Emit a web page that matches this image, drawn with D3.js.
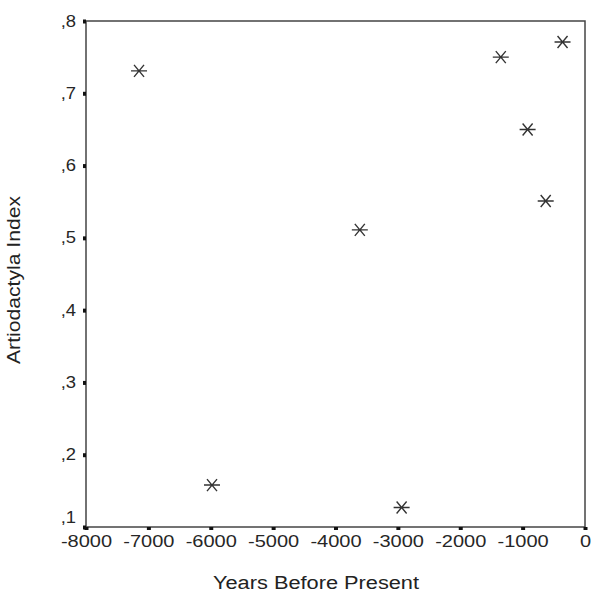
<!DOCTYPE html>
<html>
<head>
<meta charset="utf-8">
<script src="https://cdn.jsdelivr.net/npm/d3@7"></script>
<style>
  body { margin: 0; background: #fff; }
  svg { font-family: "Liberation Sans", Arial, sans-serif; }
  .axis path { display: none; }
  .axis line { stroke: #111; stroke-width: 4; }
  .axis text { fill: #262626; font-size: 16px; }
</style>
</head>
<body>
<svg width="593" height="598"></svg>
<script>
// years before present vs artiodactyla index
var years = [-7150, -5980, -3610, -2940, -1350, -920, -630, -360];
var index = [0.731, 0.158, 0.511, 0.127, 0.750, 0.650, 0.551, 0.771];
var xTicks = [-8000, -7000, -6000, -5000, -4000, -3000, -2000, -1000, 0];
var yTicks = [0.1, 0.2, 0.3, 0.4, 0.5, 0.6, 0.7, 0.8];

var svg = d3.select("svg"),
  margin = { top: 21, right: 8, bottom: 71, left: 86 },
  width = 593 - margin.left - margin.right,
  height = 598 - margin.top - margin.bottom,
  g = svg.append("g").attr("transform", "translate(" + margin.left + "," + margin.top + ")");

var x = d3.scaleLinear().domain([-8000, 0]).range([0, width]),
  y = d3.scaleLinear().domain([0.1, 0.8]).range([height, 0]);

var data = years.map(function(d, i) {
  return { year: d, value: index[i] };
});

// the scanned original has horizontally stretched lettering
function stretch(sel, k) {
  sel.each(function() {
    var w = this.getComputedTextLength();
    d3.select(this)
      .attr("textLength", w * k)
      .attr("lengthAdjust", "spacingAndGlyphs");
  });
}

// frame
g.append("rect")
  .attr("width", width)
  .attr("height", height)
  .attr("fill", "none")
  .attr("stroke", "#444")
  .attr("stroke-width", 1.5);

var xAxis = g.append("g")
  .attr("class", "axis axis--x")
  .attr("transform", "translate(0," + height + ")")
  .call(d3.axisBottom(x).tickValues(xTicks).tickSize(3).tickPadding(6)
    .tickFormat(function(d) { return String(d); }));

var yAxis = g.append("g")
  .attr("class", "axis axis--y")
  .call(d3.axisLeft(y).tickValues(yTicks).tickSize(3).tickPadding(7)
    .tickFormat(function(d) { return "," + Math.round(d * 10); }));

stretch(xAxis.selectAll(".tick text"), 1.25);
stretch(yAxis.selectAll(".tick text"), 1.15);

// lowest label sits a little higher, clear of the x labels
yAxis.selectAll(".tick text")
  .filter(function(d) { return d === 0.1; })
  .attr("dy", "-0.3em");

// asterisk markers
var marker = g.selectAll(".pt")
  .data(data)
  .enter().append("g")
  .attr("class", "pt")
  .attr("transform", function(d) { return "translate(" + x(d.year) + "," + y(d.value) + ")"; });

marker.append("path")
  .attr("d", "M-8,0H8M-5,-6L5,6M-5,6L5,-6")
  .attr("stroke", "#333")
  .attr("stroke-width", 1.4)
  .attr("fill", "none");

svg.append("text")
  .attr("x", 316)
  .attr("y", 589)
  .attr("text-anchor", "middle")
  .attr("fill", "#222")
  .attr("textLength", 206)
  .attr("lengthAdjust", "spacingAndGlyphs")
  .style("font-size", "18px")
  .text("Years Before Present");

svg.append("text")
  .attr("transform", "translate(20,280) rotate(-90)")
  .attr("text-anchor", "middle")
  .attr("fill", "#222")
  .attr("textLength", 168)
  .attr("lengthAdjust", "spacingAndGlyphs")
  .style("font-size", "18px")
  .text("Artiodactyla Index");
</script>
</body>
</html>
